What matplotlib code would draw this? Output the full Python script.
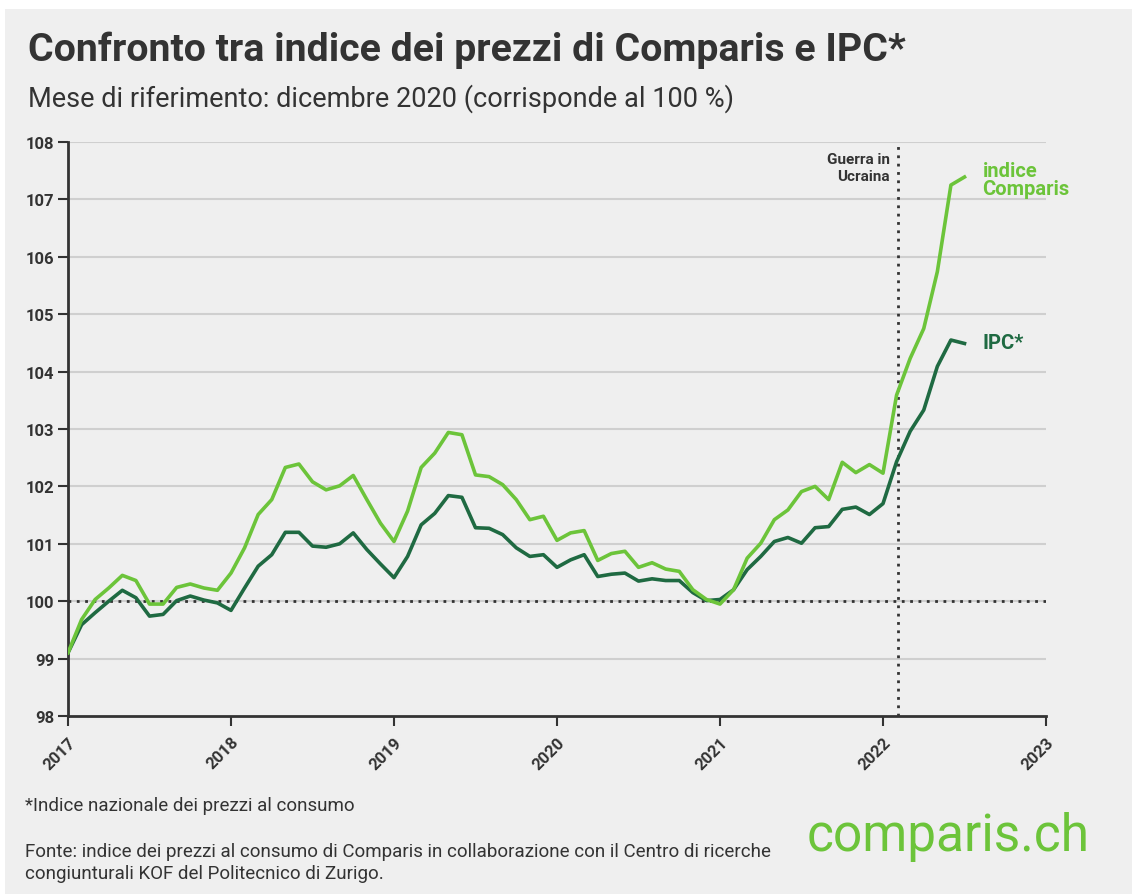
import numpy as np
import matplotlib.pyplot as plt
from matplotlib.patches import Rectangle

# === Dati (mensili, gen 2017 - lug 2022) ===
start_year = 2017
comparis = [
    99.10, 99.68, 100.03, 100.23, 100.45, 100.36, 99.95, 99.95, 100.24, 100.30, 100.23, 100.19,
    100.49, 100.93, 101.51, 101.77, 102.33, 102.39, 102.08, 101.94, 102.01, 102.19, 101.77, 101.36,
    101.04, 101.57, 102.33, 102.58, 102.94, 102.90, 102.20, 102.17, 102.03, 101.77, 101.42, 101.48,
    101.06, 101.19, 101.23, 100.71, 100.83, 100.87, 100.59, 100.67, 100.56, 100.52, 100.20, 100.03,
    99.95, 100.20, 100.75, 101.01, 101.42, 101.59, 101.91, 102.00, 101.77, 102.42, 102.24, 102.38,
    102.23, 103.59, 104.23, 104.75, 105.74, 107.25, 107.39,
]
ipc = [
    99.10, 99.59, 99.80, 100.00, 100.19, 100.06, 99.74, 99.77, 100.01, 100.09, 100.02, 99.97,
    99.84, 100.23, 100.61, 100.81, 101.20, 101.20, 100.96, 100.94, 101.00, 101.19, 100.90, 100.65,
    100.41, 100.78, 101.33, 101.53, 101.84, 101.81, 101.28, 101.27, 101.16, 100.93, 100.78, 100.81,
    100.59, 100.72, 100.81, 100.43, 100.47, 100.49, 100.35, 100.39, 100.36, 100.36, 100.15, 100.01,
    100.03, 100.20, 100.55, 100.78, 101.04, 101.11, 101.01, 101.28, 101.30, 101.60, 101.64, 101.51,
    101.70, 102.43, 102.96, 103.33, 104.09, 104.55, 104.49,
]
years = [2017, 2018, 2019, 2020, 2021, 2022, 2023]
y_ticks = [98, 99, 100, 101, 102, 103, 104, 105, 106, 107, 108]
war_month = 2022 + 1.1 / 12  # febbraio 2022

x = start_year + np.arange(len(comparis)) / 12

# === Colori e font ===
bg = "#efefef"
light_green = "#6cc43a"
dark_green = "#1f6a42"
text_dark = "#333333"
plt.rcParams["font.family"] = ["Roboto", "DejaVu Sans"]

fig = plt.figure(figsize=(11.32, 8.95), dpi=100, facecolor="white")
fig.patches.append(Rectangle((5 / 1132, 0), 1, 1 - 10 / 895, transform=fig.transFigure,
                             facecolor=bg, edgecolor="none", zorder=-10))

ax = fig.add_axes([68 / 1132, 178 / 895, 978 / 1132, 574 / 895])
ax.set_facecolor(bg)

# === Griglia e linee di riferimento ===
for yv in y_ticks[1:]:
    ax.axhline(yv, color="#cfcfcf", linewidth=1.5, zorder=1)
ax.axhline(100, color=text_dark, linestyle=(0, (1, 2)), linewidth=2, zorder=2)
ax.axvline(war_month, color=text_dark, linestyle=(0, (1, 2)), linewidth=2, zorder=2)

# === Serie ===
ax.plot(x, comparis, color=light_green, linewidth=2.6, zorder=4)
ax.plot(x, ipc, color=dark_green, linewidth=2.6, zorder=3)

ax.set_xlim(2017, 2023)
ax.set_ylim(98, 108)
ax.set_xticks(years)
ax.set_xticklabels([str(y) for y in years], rotation=45, ha="right", rotation_mode="anchor",
                   fontsize=12, fontweight="bold", color=text_dark)
ax.set_yticks(y_ticks)
ax.set_yticklabels([str(y) for y in y_ticks], fontsize=12, fontweight="bold", color=text_dark)
ax.tick_params(axis="both", direction="out", length=7, width=1.5, color=text_dark, pad=3)
ax.tick_params(axis="x", pad=6)

for s in ["top", "right"]:
    ax.spines[s].set_visible(False)
for s in ["left", "bottom"]:
    ax.spines[s].set_color(text_dark)
    ax.spines[s].set_linewidth(2)

# === Etichette ===
ax.text(x[-1] + 0.11, 107.35, "indice\nComparis", color=light_green, fontsize=14.5,
        fontweight="bold", va="center", ha="left", linespacing=0.95)
ax.text(x[-1] + 0.11, 104.5, "IPC*", color=dark_green, fontsize=14.5,
        fontweight="bold", va="center", ha="left")
ax.text(war_month - 0.05, 107.55, "Guerra in\nUcraina", color=text_dark, fontsize=11,
        fontweight="bold", va="center", ha="right", linespacing=1.3)

# === Titolo, sottotitolo e note ===
fig.text(28 / 1132, 1 - 50 / 895, "Confronto tra indice dei prezzi di Comparis e IPC*",
         fontsize=28.3, fontweight="bold", color=text_dark, va="center")
fig.text(28 / 1132, 1 - 99 / 895, "Mese di riferimento: dicembre 2020 (corrisponde al 100 %)",
         fontsize=19.5, color=text_dark, va="center")
fig.text(25 / 1132, 1 - 806 / 895, "*Indice nazionale dei prezzi al consumo",
         fontsize=13.5, color=text_dark, va="center")
fig.text(25 / 1132, 1 - 863 / 895,
         "Fonte: indice dei prezzi al consumo di Comparis in collaborazione con il Centro di ricerche\n"
         "congiunturali KOF del Politecnico di Zurigo.",
         fontsize=13.5, color=text_dark, va="center", linespacing=1.3)
fig.text(1090 / 1132, 1 - 837 / 895, "comparis.ch", fontsize=37, color=light_green,
         ha="right", va="center")

fig.savefig("out.png", dpi=100, facecolor="white")
